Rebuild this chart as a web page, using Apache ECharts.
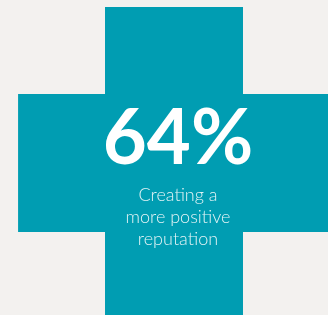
<!DOCTYPE html>
<html>
<head>
<meta charset="utf-8">
<script src="https://cdn.jsdelivr.net/npm/echarts@6/dist/echarts.min.js"></script>
<style>
  html, body { margin: 0; padding: 0; background: #f3f1ef; }
  #chart { width: 328px; height: 315px; }
</style>
</head>
<body>
<div id="chart"></div>
<script>
// cross arms, in units of the arm half-width: [x0, x1, y0, y1]
var armNames = ['vertical', 'horizontal'];
var armRects = [
  [-1, 1, -2.26, 2.26],
  [-2.26, 2.26, -1, 1]
];
var statValue = 64;
var statLabel = ['Creating a', 'more positive', 'reputation'];

var chart = echarts.init(document.getElementById('chart'));
var option = {
  backgroundColor: '#f3f1ef',
  animation: false,
  grid: { left: 0, right: 0, top: 0, bottom: 0 },
  xAxis: { type: 'value', min: -2.522, max: 2.232, show: false },
  yAxis: { type: 'value', min: -2.203, max: 2.362, show: false },
  series: [{
    type: 'custom',
    clip: true,
    data: armRects.map(function (r, i) { return { name: armNames[i], value: r }; }),
    renderItem: function (params, api) {
      var p0 = api.coord([api.value(0), api.value(3)]);
      var p1 = api.coord([api.value(1), api.value(2)]);
      return {
        type: 'rect',
        shape: { x: p0[0], y: p0[1], width: p1[0] - p0[0], height: p1[1] - p0[1] },
        style: { fill: '#009db2' }
      };
    }
  }],
  graphic: [
    {
      type: 'text',
      z: 100,
      x: 178, y: 101,
      style: {
        text: statValue + '%',
        fill: '#ffffff',
        font: 'bold 76px Lato, "Liberation Sans", sans-serif',
        align: 'center',
        verticalAlign: 'top'
      }
    },
    {
      type: 'text',
      z: 100,
      x: 178, y: 184,
      style: {
        text: statLabel.join('\n'),
        fill: '#e3f4f6',
        font: '300 18px Lato, "Liberation Sans", sans-serif',
        lineHeight: 22,
        align: 'center',
        verticalAlign: 'top'
      }
    }
  ]
};
chart.setOption(option);
</script>
</body>
</html>
